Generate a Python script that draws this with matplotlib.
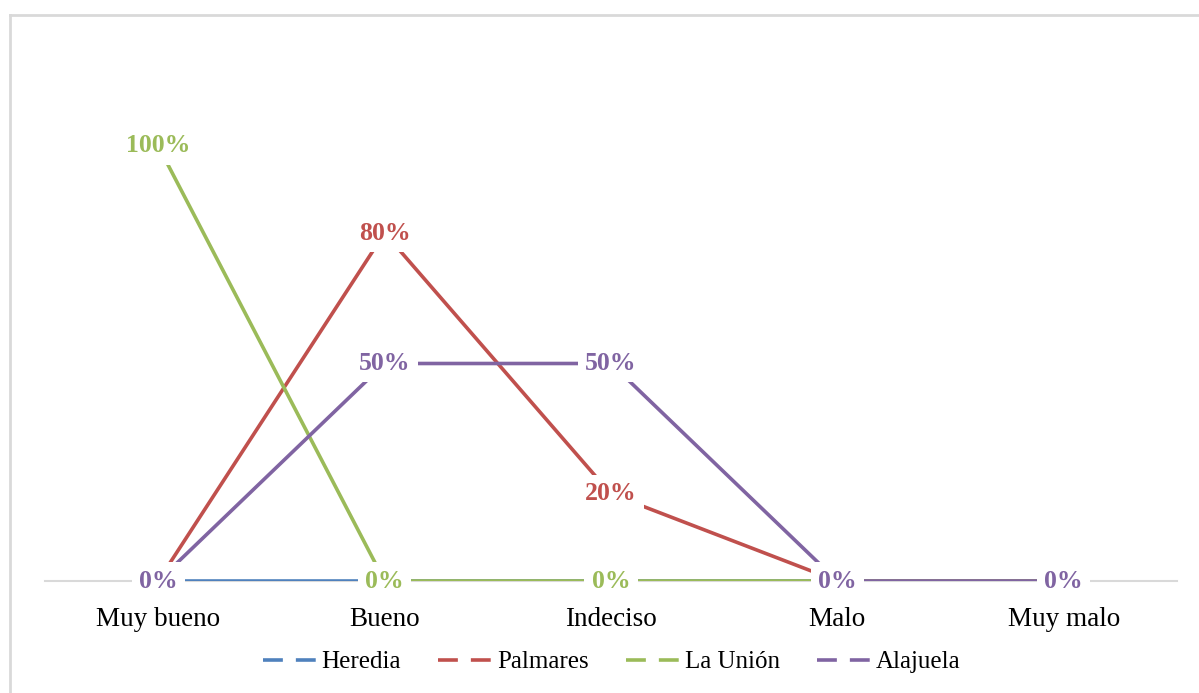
import matplotlib.pyplot as plt
from matplotlib.lines import Line2D
import numpy as np

categorias = ["Muy bueno", "Bueno", "Indeciso", "Malo", "Muy malo"]
series = ["Heredia", "Palmares", "La Unión", "Alajuela"]
heredia = [0, 0, 0, 0, 0]
palmares = [0, 80, 20, 0, 0]
la_union = [100, 0, 0, 0, 0]
alajuela = [0, 50, 50, 0, 0]
colores = ["#4F81BD", "#C0504D", "#9BBB59", "#8064A2"]

valores = [heredia, palmares, la_union, alajuela]

W, H = 1199, 693
fig = plt.figure(figsize=(W / 100, H / 100), dpi=100)
plt.rcParams['font.family'] = ['Liberation Serif', 'DejaVu Serif']

# marco del grafico
fig.add_artist(Line2D([10 / W, 10 / W], [0, 1 - 15 / H], color="#D9D9D9", lw=2))
fig.add_artist(Line2D([10 / W, 1], [1 - 15 / H, 1 - 15 / H], color="#D9D9D9", lw=2))

ax = fig.add_axes([45 / W, (H - 581) / H, 1132 / W, 522 / H])
x = np.arange(len(categorias))

for i, (nombre, vals, c) in enumerate(zip(series, valores, colores)):
    ax.plot(x, vals, color=c, lw=2.6, solid_capstyle="butt", zorder=2 + i)

# etiquetas de datos encima de todas las lineas
for i, (vals, c) in enumerate(zip(valores, colores)):
    for xi, v in zip(x, vals):
        ax.text(xi, v, f"{v}%", color=c, fontsize=18.5, fontweight="bold",
                ha="center", va="center", zorder=10 + i,
                bbox=dict(boxstyle="square,pad=0.28", fc="white", ec="none"))

ax.set_xlim(-0.5, 4.5)
ax.set_ylim(0, 120)
ax.set_yticks([])
ax.set_xticks(x)
ax.set_xticklabels(categorias, fontsize=19.5)
ax.tick_params(axis="x", length=0, pad=19)
for s in ["top", "right", "left"]:
    ax.spines[s].set_visible(False)
ax.spines["bottom"].set_color("#D9D9D9")
ax.spines["bottom"].set_linewidth(1.5)
ax.spines["bottom"].set_zorder(1)

handles = [Line2D([0], [0], color=c, lw=2.6, linestyle=(0, (5.5, 3.6)))
           for c in colores]
fig.legend(handles, series, loc="center", bbox_to_anchor=(0.51, (H - 662) / H),
           ncol=4, frameon=False, fontsize=18, handlelength=2.2,
           handletextpad=0.16, columnspacing=1.48)

fig.savefig("out.png", dpi=100)
